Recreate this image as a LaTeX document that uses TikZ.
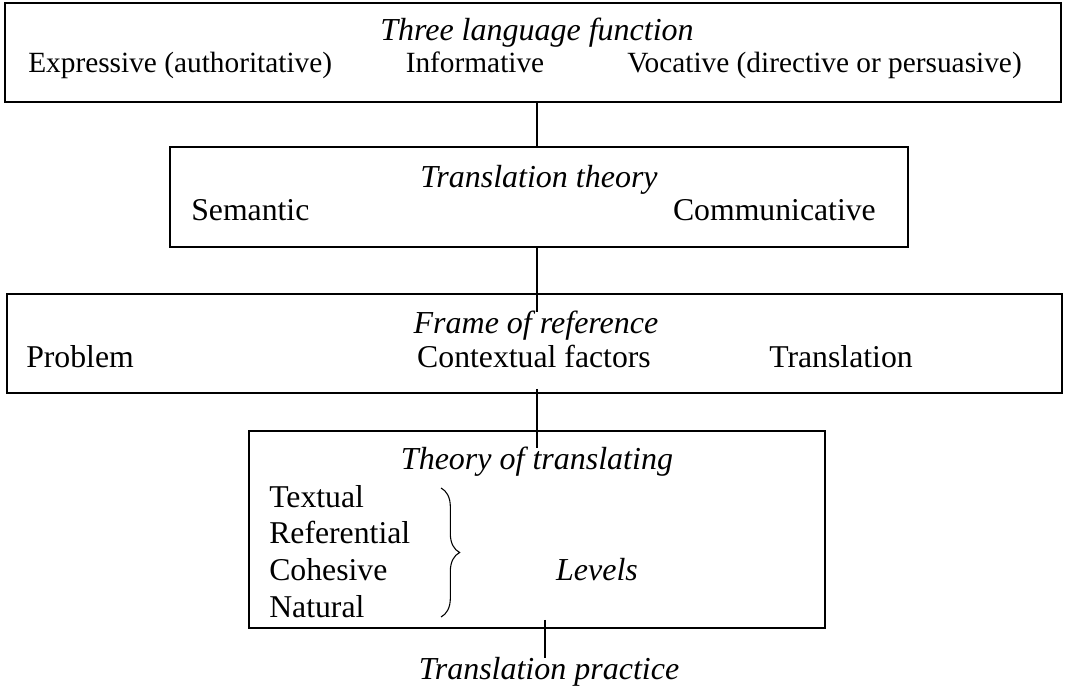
\documentclass[tikz,border=0pt]{standalone}
\usepackage{fontspec}
\setmainfont{Liberation Serif}
\usetikzlibrary{decorations.pathreplacing}
\begin{document}
\begin{tikzpicture}[
    x=0.75pt, y=-0.75pt,
    box/.style={draw, line width=1.3pt, inner sep=0pt},
    lbl/.style={inner sep=0pt, text height=16pt, text depth=5pt,
      font=\fontsize{23.8}{28}\selectfont},
    lblsmall/.style={lbl, font=\fontsize{22}{26}\selectfont},
    ttl/.style={lbl, font=\fontsize{24}{28}\selectfont\itshape},
  ]
  \useasboundingbox (0,0) rectangle (1065,691);

  % the four frames
  \node[box, minimum width=792pt, minimum height=74.25pt] (lang) at (533,52.5) {};
  \node[box, minimum width=553.5pt, minimum height=75pt] (theory) at (539,197) {};
  \node[box, minimum width=791.25pt, minimum height=74.25pt] (frame) at (534.5,343.5) {};
  \node[box, minimum width=432pt, minimum height=147.75pt] (trans) at (537,529.5) {};

  % texts
  \node[ttl] (tlang) at (537,33) {Three language function};
  \node[lblsmall, anchor=west] (expr) at (28,65) {Expressive (authoritative)};
  \node[lblsmall] (info) at (475,65) {Informative};
  \node[lblsmall, anchor=east] (voc) at (1022,65) {Vocative (directive or persuasive)};

  \node[ttl] (ttheory) at (539,180) {Translation theory};
  \node[lbl, anchor=west] (sem) at (191,213) {Semantic};
  \node[lbl, anchor=east] (comm) at (876,213) {Communicative};

  \node[ttl] (tframe) at (536,326) {Frame of reference};
  \node[lbl, anchor=west] (prob) at (26,360) {Problem};
  \node[lbl] (ctx) at (534,360) {Contextual factors};
  \node[lbl] (transl) at (841,360) {Translation};

  \node[ttl] (ttrans) at (537,462) {Theory of translating};
  \foreach \name/\txt [count=\i] in {textual/Textual, refer/Referential, cohes/Cohesive, natur/Natural}
    \node[lbl, anchor=west] (\name) at (269,463+36.7*\i) {\txt};
  \node[ttl] (levels) at (597,573) {Levels};
  \node[ttl] (tpract) at (549,672) {Translation practice};

  % brace
  \draw[line width=0.8pt, decorate, decoration={brace, amplitude=14pt}]
    (441,488) -- (441,617);

  % connectors
  \coordinate (c34) at (537,389);
  \coordinate (c4) at (545,620);
  \draw[line width=1.3pt] (lang.south -| ttrans) -- (theory.north -| ttrans);
  \draw[line width=1pt] (theory.south -| ttrans) -- (tframe.north -| ttrans);
  \draw[line width=1pt] (c34) -- (ttrans.north);
  \draw[line width=1pt] (c4) -- (c4 |- tpract.north);
\end{tikzpicture}
\end{document}
